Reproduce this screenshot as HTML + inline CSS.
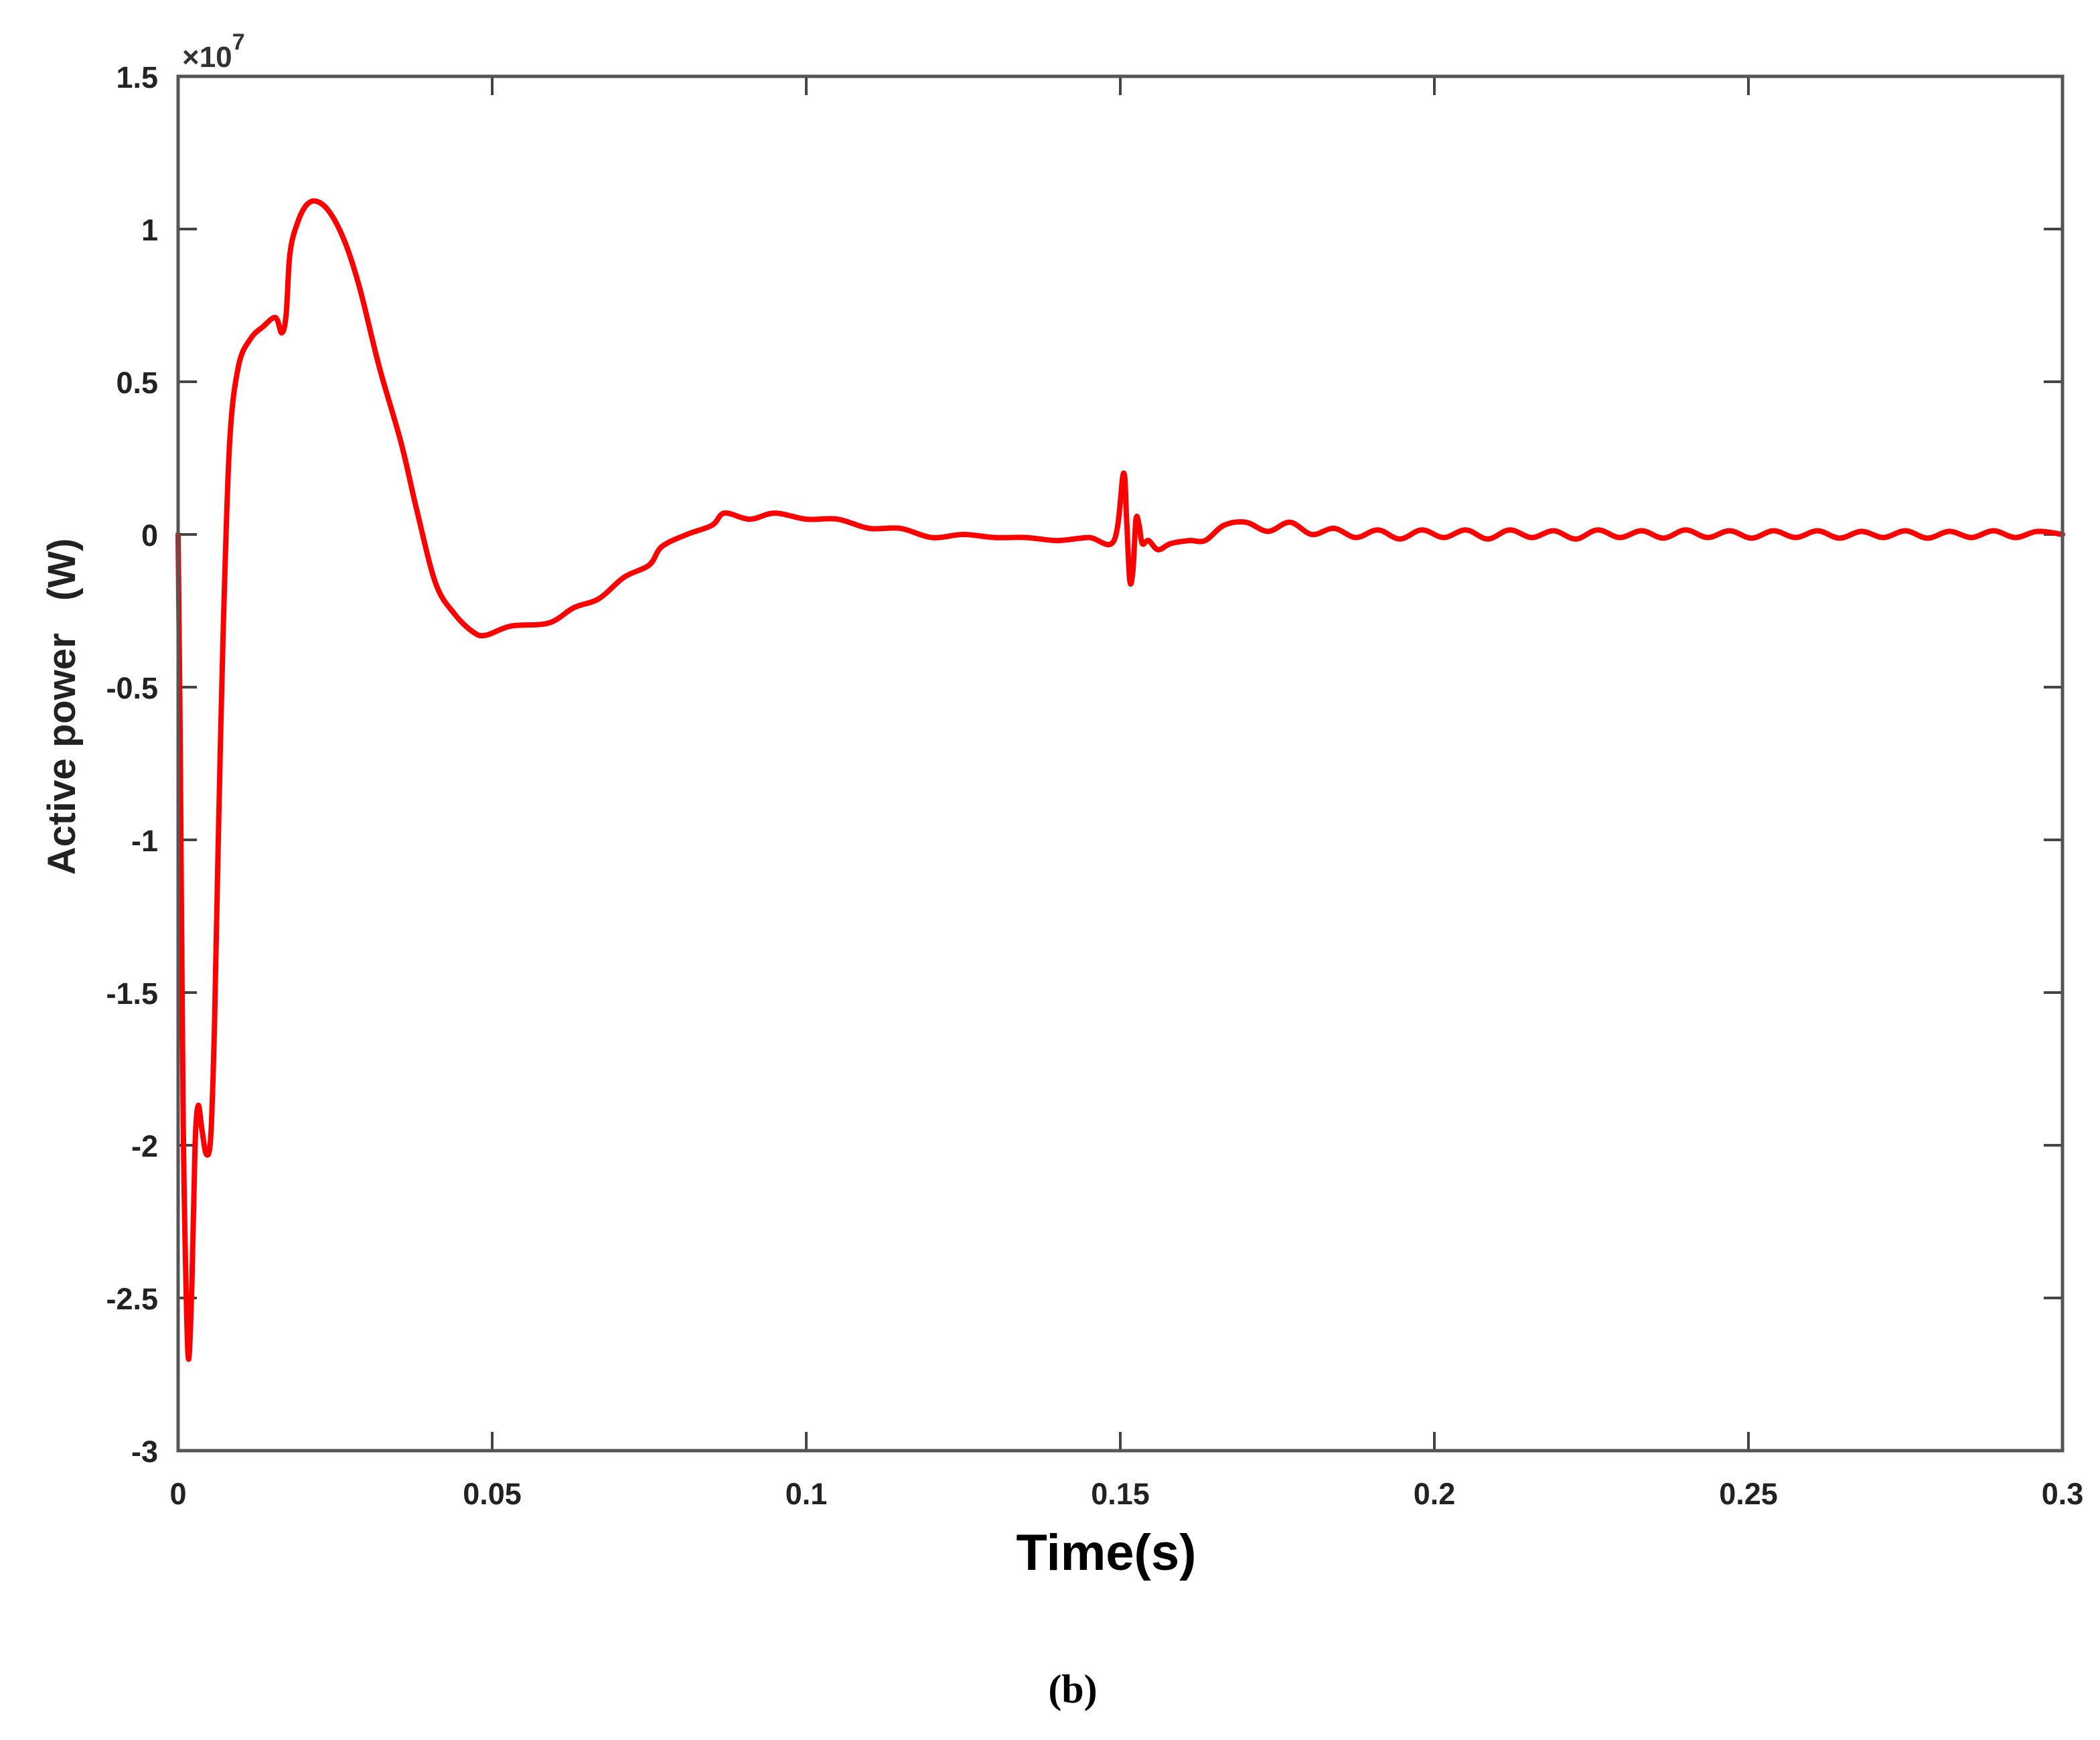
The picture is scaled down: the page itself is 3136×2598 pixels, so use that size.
<!DOCTYPE html>
<html><head><meta charset="utf-8">
<style>
html,body{margin:0;padding:0;background:#fff;}
svg{display:block;}
text{font-family:"Liberation Sans",Arial,sans-serif;}
</style></head>
<body>
<svg id="chart" width="3136" height="2598" viewBox="0 0 3136 2598" xmlns="http://www.w3.org/2000/svg">
<rect x="0" y="0" width="3136" height="2598" fill="#fff"/>
<g id="ticks"></g>
<g id="labels"></g>
<g id="series"></g>
<rect x="266" y="114" width="2814" height="2052" fill="none" stroke="#555" stroke-width="5"/>
<text x="272" y="100" font-size="44" font-weight="bold" fill="#333">×10<tspan dy="-26" font-size="34">7</tspan></text>
<text x="1652" y="2344" font-size="76" font-weight="bold" text-anchor="middle" fill="#000">Time(s)</text>
<text transform="translate(112,1055) rotate(-90)" font-size="58" font-weight="bold" text-anchor="middle" fill="#222" xml:space="preserve">Active power   (W)</text>
<text x="1602" y="2542" font-size="60" font-weight="bold" text-anchor="middle" fill="#000" style="font-family:'Liberation Serif',serif">(b)</text>
</svg>
<script>
const xTicks = [0, 0.05, 0.1, 0.15, 0.2, 0.25, 0.3];
const xTickLabels = ["0", "0.05", "0.1", "0.15", "0.2", "0.25", "0.3"];
const yTicks = [1.5, 1, 0.5, 0, -0.5, -1, -1.5, -2, -2.5, -3];
const yTickLabels = ["1.5", "1", "0.5", "0", "-0.5", "-1", "-1.5", "-2", "-2.5", "-3"];
const times = [0, 0.0003, 0.0008, 0.0013, 0.0017, 0.0022, 0.0027, 0.0032, 0.0038, 0.0045, 0.0052, 0.0058, 0.0064, 0.0072, 0.0082, 0.0096, 0.0115, 0.0135, 0.0155, 0.0165, 0.0172, 0.0178, 0.019, 0.0205, 0.0222, 0.0243, 0.0267, 0.029, 0.032, 0.0355, 0.038, 0.041, 0.044, 0.047, 0.049, 0.053, 0.059, 0.063, 0.067, 0.071, 0.075, 0.077, 0.081, 0.085, 0.087, 0.091, 0.095, 0.1, 0.105, 0.11, 0.115, 0.12, 0.125, 0.13, 0.135, 0.14, 0.145, 0.149, 0.1505, 0.151, 0.1515, 0.152, 0.1525, 0.153, 0.1535, 0.1545, 0.156, 0.158, 0.161, 0.1635, 0.1665, 0.17, 0.1735, 0.177, 0.1805, 0.184, 0.1875, 0.191, 0.1945, 0.198, 0.2015, 0.205, 0.2085, 0.212, 0.2155, 0.219, 0.2225, 0.226, 0.2295, 0.233, 0.2365, 0.24, 0.2435, 0.247, 0.2505, 0.254, 0.2575, 0.261, 0.2645, 0.268, 0.2715, 0.275, 0.2785, 0.282, 0.2855, 0.289, 0.2925, 0.296, 0.3];
const power = [0, -0.6, -1.9, -2.5, -2.7, -2.45, -2.0, -1.87, -1.95, -2.03, -1.97, -1.6, -1.0, -0.3, 0.3, 0.55, 0.64, 0.68, 0.71, 0.66, 0.72, 0.92, 1.02, 1.08, 1.09, 1.05, 0.95, 0.8, 0.55, 0.3, 0.08, -0.16, -0.26, -0.32, -0.33, -0.3, -0.29, -0.24, -0.21, -0.14, -0.1, -0.04, 0.0, 0.03, 0.07, 0.05, 0.07, 0.05, 0.05, 0.02, 0.02, -0.01, 0.0, -0.01, -0.01, -0.02, -0.01, -0.02, 0.2, 0.05, -0.15, -0.12, 0.05, 0.03, -0.03, -0.02, -0.05, -0.03, -0.02, -0.02, 0.03, 0.04, 0.01, 0.04, 0.0, 0.02, -0.01, 0.015, -0.015, 0.015, -0.01, 0.015, -0.015, 0.015, -0.01, 0.012, -0.015, 0.015, -0.01, 0.012, -0.012, 0.015, -0.01, 0.012, -0.012, 0.012, -0.01, 0.012, -0.012, 0.01, -0.01, 0.012, -0.012, 0.01, -0.01, 0.012, -0.01, 0.01, 0.0];

const L = 266, R = 3080, T = 114, B = 2166;
const xMin = 0, xMax = 0.3, yMin = -3, yMax = 1.5;
function sx(t){ return L + (t - xMin) / (xMax - xMin) * (R - L); }
function sy(v){ return B - (v - yMin) / (yMax - yMin) * (B - T); }
const NS = "http://www.w3.org/2000/svg";
const ticksG = document.getElementById('ticks');
const labelsG = document.getElementById('labels');
const seriesG = document.getElementById('series');
function mk(tag, attrs){ const e = document.createElementNS(NS, tag); for (const k in attrs) e.setAttribute(k, attrs[k]); return e; }

xTicks.forEach((t, i) => {
  const x = sx(t);
  const a = mk('line', {x1:x, y1:B, x2:x, y2:B-28, stroke:'#444', 'stroke-width':4});
  
  
  ticksG.appendChild(a);
  const b = mk('line', {x1:x, y1:T, x2:x, y2:T+28, stroke:'#444', 'stroke-width':4});
  
  
  ticksG.appendChild(b);
  const tx = mk('text', {x:x, y:B+80, 'font-size':45, 'font-weight':'bold', 'text-anchor':'middle', fill:'#222'});
  tx.textContent = xTickLabels[i];
  
  
  labelsG.appendChild(tx);
});
yTicks.forEach((v, i) => {
  const y = sy(v);
  const a = mk('line', {x1:L, y1:y, x2:L+28, y2:y, stroke:'#444', 'stroke-width':4});
  
  
  ticksG.appendChild(a);
  const b = mk('line', {x1:R, y1:y, x2:R-28, y2:y, stroke:'#444', 'stroke-width':4});
  
  
  ticksG.appendChild(b);
  const tx = mk('text', {x:L-30, y:y+17, 'font-size':45, 'font-weight':'bold', 'text-anchor':'end', fill:'#222'});
  tx.textContent = yTickLabels[i];
  
  
  labelsG.appendChild(tx);
});
// Catmull-Rom smoothing through data points
const pts = times.map((t, i) => [sx(t), sy(power[i])]);
let d = 'M' + pts[0][0].toFixed(1) + ',' + pts[0][1].toFixed(1);
for (let i = 0; i < pts.length - 1; i++) {
  const p0 = pts[Math.max(0, i-1)], p1 = pts[i], p2 = pts[i+1], p3 = pts[Math.min(pts.length-1, i+2)];
  const c1x = p1[0] + (p2[0]-p0[0])/6, c1y = p1[1] + (p2[1]-p0[1])/6;
  const c2x = p2[0] - (p3[0]-p1[0])/6, c2y = p2[1] - (p3[1]-p1[1])/6;
  d += 'C' + c1x.toFixed(1) + ',' + c1y.toFixed(1) + ' ' + c2x.toFixed(1) + ',' + c2y.toFixed(1) + ' ' + p2[0].toFixed(1) + ',' + p2[1].toFixed(1);
}
const path = mk('path', {d:d, fill:'none', stroke:'#ff0000', 'stroke-width':8, 'stroke-linejoin':'round', 'stroke-linecap':'round'});


seriesG.appendChild(path);
</script>
</body></html>
